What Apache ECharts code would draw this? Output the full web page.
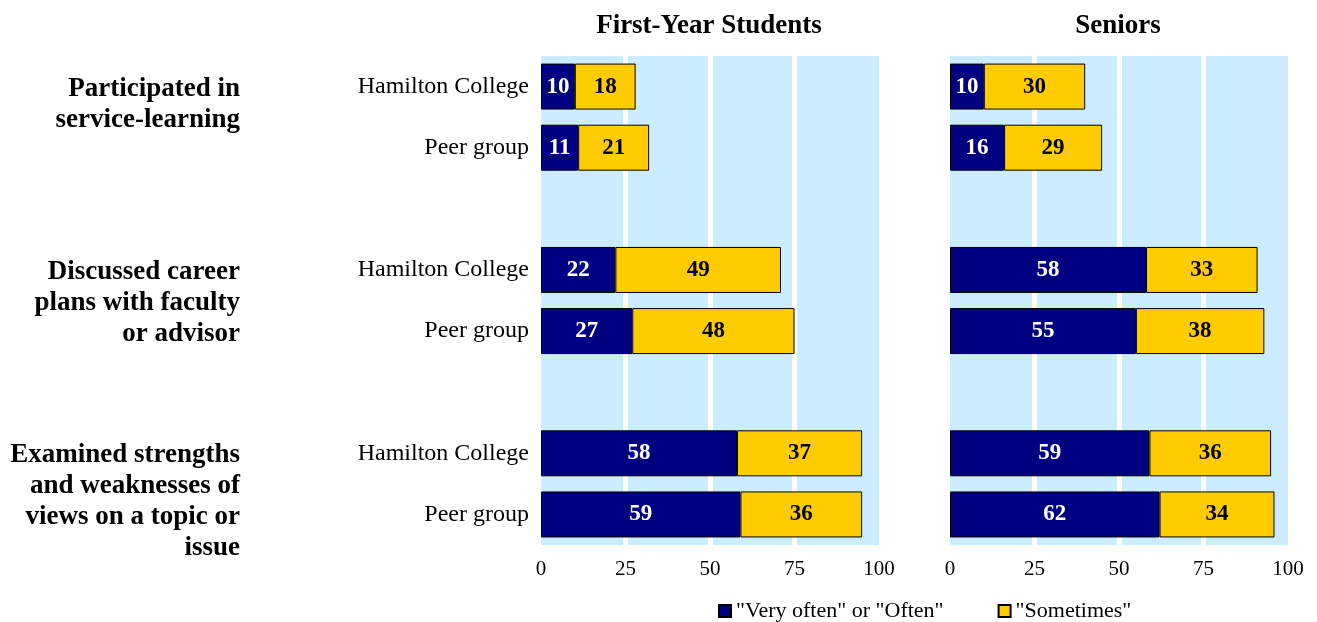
<!DOCTYPE html>
<html>
<head>
<meta charset="utf-8">
<script src="https://cdn.jsdelivr.net/npm/echarts@6/dist/echarts.min.js"></script>
<style>
html,body{margin:0;padding:0;background:#fff;}
#chart{width:1317px;height:622px;}
</style>
</head>
<body>
<div id="chart"></div>
<script>
// ---- data ----
const rowLabels = ['Hamilton College', 'Peer group', '', 'Hamilton College', 'Peer group', '', 'Hamilton College', 'Peer group'];
const groupLabels = ['Participated in\nservice-learning', 'Discussed career\nplans with faculty\nor advisor', 'Examined strengths\nand weaknesses of\nviews on a topic or\nissue'];
const groupRows = [0, 3, 6];
const panelTitles = ['First-Year Students', 'Seniors'];
const seriesNames = ['"Very often" or "Often"', '"Sometimes"'];
const fyOften = [10, 11, null, 22, 27, null, 58, 59];
const fySometimes = [18, 21, null, 49, 48, null, 37, 36];
const srOften = [10, 16, null, 58, 55, null, 59, 62];
const srSometimes = [30, 29, null, 33, 38, null, 36, 34];
const xTicks = [0, 25, 50, 75, 100];

// ---- style ----
const FONT = '"Liberation Serif", "Times New Roman", serif';
const NAVY = '#000080';
const YELLOW = '#FFCC00';
const BG = '#CCECFF';

const chart = echarts.init(document.getElementById('chart'));

const grids = [
  {left: 541, width: 338, top: 56, height: 489},
  {left: 950, width: 338, top: 56, height: 489}
];

function xAxisFor(i) {
  return {
    type: 'value', gridIndex: i, min: xTicks[0], max: xTicks[xTicks.length - 1], interval: 25,
    axisLine: {show: false}, axisTick: {show: false},
    axisLabel: {fontFamily: FONT, fontSize: 21, color: '#000', margin: 14},
    splitLine: {show: true, showMinLine: false, showMaxLine: false, lineStyle: {color: '#fff', width: 5}}
  };
}
function yAxisFor(i) {
  return {
    type: 'category', gridIndex: i, data: rowLabels, inverse: true,
    axisLine: {show: false}, axisTick: {show: false},
    axisLabel: {show: i === 0, fontFamily: FONT, fontSize: 24, color: '#000', margin: 12, padding: [4, 0, 0, 0]},
    splitLine: {show: false}
  };
}
function barSeries(name, data, idx, color, labelColor) {
  return {
    name: name, type: 'bar', stack: 'p' + idx, xAxisIndex: idx, yAxisIndex: idx,
    data: data, barWidth: 46,
    itemStyle: {color: color, borderColor: '#000', borderWidth: 1},
    label: {show: true, position: 'inside', fontFamily: FONT, fontSize: 23, fontWeight: 'bold', color: labelColor},
    emphasis: {disabled: true},
    animation: false
  };
}

const option = {
  backgroundColor: '#fff',
  animation: false,
  title: panelTitles.map((t, i) => ({
    text: t, left: grids[i].left + grids[i].width / 2 - 6, top: 8, textAlign: 'center',
    textStyle: {fontFamily: FONT, fontSize: 27, fontWeight: 'bold', color: '#000'}
  })),
  legend: {
    left: 718, top: 600, itemWidth: 12, itemHeight: 12, itemGap: 54, padding: 0,
    icon: 'rect',
    textStyle: {fontFamily: FONT, fontSize: 22, color: '#000'},
    data: seriesNames
  },
  grid: grids.map(g => Object.assign({show: true, backgroundColor: BG, borderWidth: 0, containLabel: false}, g)),
  xAxis: [xAxisFor(0), xAxisFor(1)],
  yAxis: [yAxisFor(0), yAxisFor(1)],
  series: [
    barSeries(seriesNames[0], fyOften, 0, NAVY, '#fff'),
    barSeries(seriesNames[1], fySometimes, 0, YELLOW, '#000'),
    barSeries(seriesNames[0], srOften, 1, NAVY, '#fff'),
    barSeries(seriesNames[1], srSometimes, 1, YELLOW, '#000')
  ]
};
chart.setOption(option);

const LH = 31;
const graphics = groupLabels.map((t, i) => {
  const y = chart.convertToPixel({yAxisIndex: 0}, groupRows[i]);
  return {
    type: 'text', x: 240, y: y - LH / 2 + 2,
    style: {text: t, align: 'right', verticalAlign: 'top', fontFamily: FONT, fontSize: 27, fontWeight: 'bold', lineHeight: LH, fill: '#000'}
  };
});
chart.setOption({graphic: graphics});
</script>
</body>
</html>
